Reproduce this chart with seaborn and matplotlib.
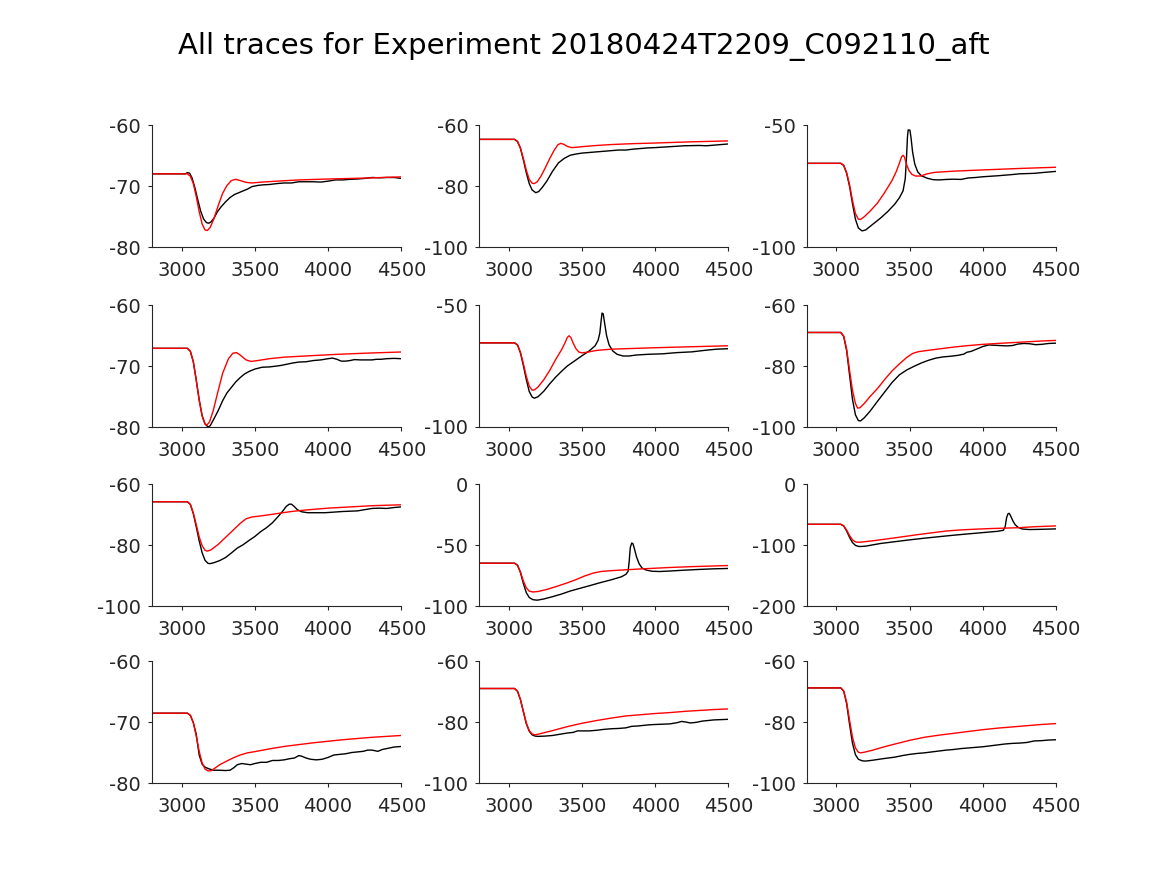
import matplotlib
matplotlib.use("Agg")
import matplotlib.pyplot as plt
import seaborn as sns

sns.set_style("ticks")
plt.rcParams['font.family'] = ['DejaVu Sans']
plt.rcParams['axes.unicode_minus'] = False

TITLE = "All traces for Experiment 20180424T2209_C092110_aft"
X_LIM = (2800, 4500)
X_TICKS = [3000, 3500, 4000, 4500]

# ---------------- panel 1 ----------------
p1_t_rec = [2800, 3025, 3040, 3055, 3070, 3090, 3110, 3130, 3150, 3170, 3185, 3200, 3220, 3245, 3270, 3300, 3330, 3360, 3390, 3420, 3450, 3480, 3520, 3560, 3600, 3650, 3700, 3750, 3800, 3850, 3900, 3950, 4000, 4050, 4100, 4150, 4200, 4250, 4300, 4350, 4400, 4450, 4500]
p1_v_rec = [-68.0, -68.0, -67.8, -67.9, -68.6, -70.2, -72.2, -74.1, -75.4, -76.0, -76.1, -75.9, -75.3, -74.2, -73.4, -72.6, -71.9, -71.4, -71.1, -70.8, -70.5, -70.1, -69.9, -69.8, -69.75, -69.6, -69.5, -69.5, -69.3, -69.3, -69.3, -69.35, -69.2, -69.0, -69.0, -68.9, -68.85, -68.75, -68.6, -68.65, -68.6, -68.6, -68.75]
p1_t_sim = [2800, 3040, 3060, 3080, 3100, 3120, 3140, 3160, 3175, 3195, 3220, 3250, 3280, 3310, 3340, 3370, 3400, 3440, 3480, 3550, 3650, 3800, 4000, 4250, 4500]
p1_v_sim = [-68.0, -68.0, -68.4, -69.6, -71.7, -74.2, -76.2, -77.2, -77.3, -76.8, -75.4, -73.2, -71.2, -69.9, -69.1, -68.9, -69.1, -69.4, -69.5, -69.35, -69.2, -69.0, -68.85, -68.7, -68.5]

# ---------------- panel 2 ----------------
p2_t_rec = [2800, 3040, 3060, 3080, 3100, 3120, 3140, 3160, 3185, 3205, 3230, 3260, 3300, 3340, 3380, 3420, 3460, 3500, 3550, 3600, 3650, 3700, 3750, 3800, 3850, 3900, 3950, 4000, 4100, 4200, 4300, 4350, 4400, 4450, 4500]
p2_v_rec = [-64.7, -64.7, -65.4, -67.6, -71.4, -75.6, -79.2, -81.3, -82.2, -81.8, -80.4, -78.4, -75.1, -72.4, -70.9, -69.9, -69.5, -69.2, -69.0, -68.8, -68.6, -68.4, -68.2, -68.2, -67.9, -67.7, -67.5, -67.4, -67.1, -66.8, -66.7, -66.8, -66.6, -66.4, -66.2]
p2_t_sim = [2800, 3040, 3060, 3080, 3100, 3120, 3140, 3160, 3175, 3195, 3220, 3250, 3280, 3310, 3335, 3355, 3375, 3400, 3430, 3460, 3500, 3600, 3700, 3850, 4000, 4250, 4500]
p2_v_sim = [-64.7, -64.7, -65.4, -67.5, -71.0, -74.8, -77.8, -79.1, -79.2, -78.6, -76.8, -74.0, -71.0, -68.3, -66.5, -66.0, -66.3, -67.0, -67.4, -67.3, -67.1, -66.7, -66.4, -66.1, -65.9, -65.5, -65.2]

# ---------------- panel 3 ----------------
p3_t_rec = [2800, 3030, 3050, 3070, 3090, 3110, 3130, 3150, 3175, 3200, 3250, 3300, 3350, 3400, 3430, 3455, 3470, 3478, 3485, 3490, 3502, 3510, 3520, 3535, 3555, 3580, 3620, 3660, 3700, 3750, 3800, 3850, 3900, 3950, 4000, 4100, 4200, 4250, 4350, 4420, 4500]
p3_v_rec = [-65.7, -65.7, -66.6, -69.8, -75.2, -82.3, -88.6, -92.2, -93.4, -93.0, -90.6, -88.2, -85.5, -82.3, -79.8, -77.0, -72.0, -64.0, -55.0, -52.0, -52.1, -55.5, -61.0, -66.0, -69.2, -70.8, -71.8, -72.4, -72.5, -72.3, -72.2, -72.3, -71.7, -71.5, -71.2, -70.8, -70.3, -70.0, -69.8, -69.4, -69.0]
p3_t_sim = [2800, 3030, 3050, 3070, 3090, 3110, 3130, 3150, 3165, 3190, 3230, 3280, 3330, 3380, 3410, 3430, 3445, 3455, 3465, 3480, 3495, 3515, 3540, 3575, 3620, 3670, 3800, 4000, 4250, 4500]
p3_v_sim = [-65.7, -65.7, -66.5, -69.5, -74.5, -81.0, -86.3, -88.6, -88.7, -87.6, -85.3, -82.0, -77.6, -72.7, -68.9, -65.6, -63.0, -62.4, -63.2, -66.3, -68.6, -70.2, -70.9, -70.9, -70.0, -69.4, -68.9, -68.4, -67.8, -67.3]

# ---------------- panel 4 ----------------
p4_t_rec = [2800, 3040, 3060, 3080, 3100, 3120, 3140, 3160, 3180, 3195, 3220, 3250, 3280, 3310, 3340, 3370, 3400, 3430, 3460, 3500, 3550, 3600, 3650, 3680, 3720, 3760, 3800, 3850, 3900, 3950, 4000, 4030, 4060, 4090, 4120, 4150, 4180, 4220, 4260, 4300, 4330, 4360, 4400, 4450, 4500]
p4_v_rec = [-67.1, -67.1, -67.6, -69.3, -72.3, -75.5, -78.1, -79.5, -80.0, -79.8, -78.7, -77.3, -75.7, -74.4, -73.5, -72.6, -71.9, -71.3, -70.9, -70.5, -70.2, -70.15, -70.0, -69.9, -69.7, -69.5, -69.35, -69.3, -69.1, -69.0, -68.8, -68.7, -68.9, -69.2, -69.2, -69.1, -68.95, -69.0, -69.0, -69.0, -68.9, -68.9, -68.8, -68.75, -68.8]
p4_t_sim = [2800, 3040, 3060, 3080, 3100, 3120, 3140, 3160, 3172, 3190, 3215, 3245, 3280, 3320, 3350, 3375, 3400, 3440, 3475, 3520, 3600, 3700, 3850, 4050, 4250, 4500]
p4_v_sim = [-67.1, -67.1, -67.6, -69.3, -72.3, -75.6, -78.2, -79.5, -79.7, -79.2, -77.4, -74.5, -71.2, -68.8, -67.9, -67.8, -68.2, -69.0, -69.25, -69.1, -68.8, -68.55, -68.35, -68.1, -67.9, -67.7]

# ---------------- panel 5 ----------------
p5_t_rec = [2800, 3040, 3060, 3080, 3100, 3120, 3140, 3160, 3175, 3200, 3240, 3280, 3320, 3360, 3400, 3450, 3500, 3550, 3590, 3610, 3622, 3630, 3637, 3645, 3655, 3668, 3685, 3710, 3740, 3780, 3820, 3870, 3950, 4050, 4150, 4250, 4350, 4420, 4500]
p5_v_rec = [-65.5, -65.5, -66.4, -69.6, -74.8, -80.5, -85.4, -87.7, -88.2, -87.6, -85.3, -82.3, -79.6, -77.2, -75.0, -72.9, -70.8, -68.8, -66.7, -64.5, -61.5, -57.0, -53.3, -53.6, -57.5, -62.5, -66.3, -68.8, -70.2, -70.9, -70.9, -70.5, -70.2, -70.0, -69.5, -69.2, -68.5, -68.1, -67.9]
p5_t_sim = [2800, 3040, 3060, 3080, 3100, 3120, 3140, 3160, 3175, 3200, 3240, 3280, 3320, 3360, 3385, 3400, 3412, 3425, 3440, 3460, 3480, 3500, 3540, 3600, 3700, 3850, 4000, 4250, 4500]
p5_v_sim = [-65.5, -65.5, -66.3, -69.3, -74.0, -79.2, -83.2, -84.9, -84.8, -83.6, -80.6, -76.8, -72.4, -68.4, -65.4, -63.3, -62.6, -63.4, -65.6, -68.0, -69.3, -69.6, -69.3, -68.6, -68.1, -67.8, -67.5, -67.1, -66.7]

# ---------------- panel 6 ----------------
p6_t_rec = [2800, 3030, 3050, 3070, 3090, 3110, 3130, 3150, 3165, 3190, 3230, 3280, 3330, 3380, 3430, 3480, 3530, 3580, 3630, 3680, 3730, 3780, 3830, 3870, 3890, 3920, 3960, 4000, 4040, 4080, 4120, 4160, 4200, 4240, 4280, 4320, 4360, 4400, 4450, 4500]
p6_v_rec = [-69.0, -69.0, -70.3, -75.0, -83.0, -91.0, -96.0, -97.9, -98.0, -97.0, -94.8, -91.6, -88.5, -85.4, -82.9, -81.3, -80.1, -79.0, -78.1, -77.4, -77.0, -76.8, -76.5, -76.1, -75.5, -75.2, -74.4, -73.6, -73.1, -73.2, -73.3, -73.4, -73.3, -72.8, -72.6, -72.7, -73.0, -72.9, -72.6, -72.5]
p6_t_sim = [2800, 3030, 3050, 3070, 3090, 3110, 3130, 3145, 3160, 3190, 3230, 3280, 3330, 3380, 3430, 3480, 3520, 3560, 3620, 3700, 3800, 3900, 4000, 4100, 4250, 4400, 4500]
p6_v_sim = [-69.0, -69.0, -70.2, -74.5, -81.5, -88.0, -92.3, -93.8, -93.7, -92.3, -90.0, -87.4, -84.4, -81.6, -79.3, -77.2, -75.9, -75.3, -74.9, -74.4, -73.8, -73.3, -72.9, -72.6, -72.2, -71.8, -71.6]

# ---------------- panel 7 ----------------
p7_t_rec = [2800, 3040, 3060, 3080, 3100, 3120, 3140, 3160, 3180, 3195, 3220, 3260, 3300, 3340, 3380, 3420, 3460, 3500, 3540, 3580, 3620, 3660, 3690, 3715, 3735, 3750, 3770, 3790, 3820, 3860, 3920, 3980, 4040, 4100, 4150, 4200, 4250, 4300, 4350, 4400, 4450, 4500]
p7_v_rec = [-65.8, -65.8, -66.7, -69.7, -74.0, -78.6, -82.5, -85.0, -86.0, -86.1, -85.8, -85.1, -84.1, -82.6, -81.0, -79.9, -78.5, -77.2, -75.6, -74.3, -72.7, -70.6, -68.9, -67.3, -66.6, -66.6, -67.4, -68.4, -69.1, -69.4, -69.4, -69.4, -69.2, -69.0, -68.9, -68.8, -68.4, -68.0, -67.9, -68.0, -67.7, -67.5]
p7_t_sim = [2800, 3040, 3060, 3080, 3100, 3120, 3140, 3160, 3175, 3200, 3250, 3300, 3350, 3400, 3440, 3480, 3550, 3650, 3750, 3850, 4000, 4150, 4300, 4500]
p7_v_sim = [-65.8, -65.8, -66.7, -69.5, -73.3, -77.3, -80.2, -81.7, -82.0, -81.6, -79.8, -77.5, -75.2, -72.9, -71.4, -70.8, -70.4, -69.7, -69.0, -68.5, -67.9, -67.5, -67.1, -66.8]

# ---------------- panel 8 ----------------
p8_t_rec = [2800, 3040, 3060, 3080, 3100, 3120, 3140, 3165, 3195, 3240, 3300, 3360, 3420, 3480, 3550, 3620, 3700, 3770, 3800, 3815, 3822, 3830, 3840, 3848, 3858, 3872, 3890, 3910, 3940, 3980, 4030, 4100, 4200, 4300, 4400, 4500]
p8_v_rec = [-64.9, -64.9, -66.5, -72.5, -81.5, -89.0, -93.0, -94.8, -95.2, -94.2, -92.3, -90.2, -87.7, -85.7, -83.4, -81.0, -78.5, -76.0, -74.0, -71.5, -64.0, -52.0, -48.3, -48.9, -53.0, -59.5, -65.3, -68.8, -70.6, -71.5, -71.7, -71.3, -70.6, -70.0, -69.5, -69.2]
p8_t_sim = [2800, 3040, 3060, 3080, 3100, 3120, 3140, 3165, 3200, 3260, 3330, 3400, 3460, 3520, 3580, 3630, 3700, 3800, 3900, 4000, 4100, 4250, 4500]
p8_v_sim = [-64.9, -64.9, -66.5, -72.0, -79.5, -85.0, -87.8, -88.5, -88.1, -86.4, -83.8, -81.0, -78.3, -75.3, -72.9, -71.7, -71.0, -70.3, -69.6, -69.0, -68.4, -67.7, -66.8]

# ---------------- panel 9 ----------------
p9_t_rec = [2800, 3030, 3050, 3070, 3090, 3110, 3130, 3150, 3165, 3200, 3300, 3400, 3500, 3600, 3700, 3800, 3900, 4000, 4100, 4140, 4152, 4162, 4172, 4180, 4190, 4205, 4220, 4240, 4270, 4320, 4400, 4500]
p9_v_rec = [-66.0, -66.0, -68.8, -77.0, -87.5, -96.0, -100.6, -102.2, -102.4, -101.8, -97.5, -94.5, -91.5, -88.8, -86.3, -83.9, -81.7, -79.6, -77.5, -75.8, -70.0, -55.0, -48.5, -48.0, -52.5, -60.5, -66.5, -71.0, -73.8, -74.6, -74.2, -73.5]
p9_t_sim = [2800, 3030, 3050, 3070, 3090, 3110, 3130, 3145, 3170, 3250, 3350, 3450, 3550, 3650, 3750, 3850, 3950, 4050, 4150, 4250, 4350, 4500]
p9_v_sim = [-66.0, -66.0, -68.5, -75.5, -84.5, -91.5, -94.8, -95.4, -95.2, -93.0, -89.8, -86.5, -83.1, -80.0, -77.0, -75.2, -74.0, -73.0, -72.3, -71.5, -70.0, -68.6]

# ---------------- panel 10 ----------------
p10_t_rec = [2800, 3040, 3060, 3080, 3100, 3120, 3140, 3160, 3190, 3220, 3260, 3300, 3330, 3356, 3380, 3410, 3440, 3470, 3500, 3540, 3580, 3620, 3660, 3700, 3740, 3770, 3800, 3820, 3850, 3880, 3920, 3960, 4000, 4040, 4080, 4120, 4160, 4200, 4240, 4270, 4300, 4340, 4370, 4410, 4450, 4500]
p10_v_rec = [-68.55, -68.55, -68.9, -70.1, -72.0, -75.4, -76.9, -77.4, -77.7, -77.9, -77.9, -77.95, -77.9, -77.5, -77.0, -76.8, -76.9, -77.0, -76.8, -76.6, -76.6, -76.3, -76.3, -76.2, -76.0, -75.9, -75.5, -75.6, -75.9, -76.1, -76.2, -76.1, -75.8, -75.4, -75.3, -75.2, -75.0, -74.9, -74.8, -74.6, -74.6, -74.8, -74.5, -74.3, -74.1, -74.0]
p10_t_sim = [2800, 3040, 3060, 3080, 3100, 3120, 3140, 3160, 3180, 3200, 3225, 3260, 3300, 3350, 3400, 3450, 3500, 3600, 3700, 3800, 3900, 4000, 4100, 4200, 4300, 4400, 4500]
p10_v_sim = [-68.55, -68.55, -68.9, -70.1, -72.3, -74.8, -76.7, -77.7, -78.0, -78.0, -77.6, -77.0, -76.5, -75.9, -75.4, -75.05, -74.85, -74.4, -74.0, -73.7, -73.4, -73.15, -72.9, -72.7, -72.5, -72.35, -72.2]

# ---------------- panel 11 ----------------
p11_t_rec = [2800, 3040, 3060, 3080, 3100, 3120, 3140, 3160, 3180, 3200, 3250, 3300, 3350, 3400, 3440, 3470, 3500, 3550, 3600, 3650, 3700, 3750, 3800, 3840, 3880, 3920, 3960, 4000, 4050, 4100, 4150, 4180, 4210, 4240, 4280, 4320, 4360, 4400, 4450, 4500]
p11_v_rec = [-69.0, -69.0, -69.9, -72.6, -76.6, -80.5, -83.0, -84.2, -84.6, -84.7, -84.6, -84.4, -84.0, -83.6, -83.4, -82.9, -82.9, -82.9, -82.7, -82.4, -82.2, -82.1, -81.9, -81.4, -81.3, -81.1, -80.9, -80.8, -80.7, -80.6, -80.2, -79.8, -80.0, -80.3, -80.1, -79.7, -79.5, -79.3, -79.2, -79.1]
p11_t_sim = [2800, 3040, 3060, 3080, 3100, 3120, 3140, 3160, 3178, 3200, 3250, 3300, 3400, 3500, 3600, 3700, 3800, 3900, 4000, 4100, 4200, 4300, 4400, 4500]
p11_v_sim = [-69.0, -69.0, -69.9, -72.6, -76.5, -80.3, -82.8, -83.9, -84.2, -84.0, -83.4, -82.8, -81.5, -80.4, -79.5, -78.7, -78.0, -77.6, -77.2, -76.9, -76.5, -76.2, -75.9, -75.7]

# ---------------- panel 12 ----------------
p12_t_rec = [2800, 3030, 3050, 3070, 3090, 3110, 3130, 3150, 3175, 3200, 3250, 3320, 3400, 3450, 3500, 3550, 3600, 3650, 3700, 3750, 3800, 3850, 3900, 3950, 4000, 4050, 4100, 4150, 4200, 4250, 4300, 4350, 4400, 4450, 4500]
p12_v_rec = [-68.8, -68.8, -69.9, -74.0, -80.8, -87.0, -90.7, -92.2, -92.7, -92.8, -92.5, -92.0, -91.5, -91.0, -90.6, -90.3, -90.1, -89.8, -89.5, -89.2, -89.0, -88.7, -88.5, -88.3, -88.1, -87.8, -87.5, -87.2, -87.0, -86.9, -86.7, -86.2, -86.1, -85.9, -85.8]
p12_t_sim = [2800, 3030, 3050, 3070, 3090, 3110, 3130, 3150, 3165, 3190, 3250, 3320, 3400, 3500, 3600, 3700, 3800, 3900, 4000, 4100, 4200, 4300, 4400, 4500]
p12_v_sim = [-68.8, -68.8, -69.8, -73.5, -79.5, -85.0, -88.5, -89.9, -90.1, -89.9, -89.2, -88.2, -87.2, -86.0, -85.0, -84.3, -83.7, -83.1, -82.5, -82.0, -81.6, -81.2, -80.8, -80.5]

# y-axis limits / ticks per panel (row-major)
y_limits = [(-80, -60), (-100, -60), (-100, -50),
            (-80, -60), (-100, -50), (-100, -60),
            (-100, -60), (-100, 0), (-200, 0),
            (-80, -60), (-100, -60), (-100, -60)]
y_ticks = [[-80, -70, -60], [-100, -80, -60], [-100, -50],
           [-80, -70, -60], [-100, -50], [-100, -80, -60],
           [-100, -80, -60], [-100, -50, 0], [-200, -100, 0],
           [-80, -70, -60], [-100, -80, -60], [-100, -80, -60]]

panels = [
    (p1_t_rec, p1_v_rec, p1_t_sim, p1_v_sim),
    (p2_t_rec, p2_v_rec, p2_t_sim, p2_v_sim),
    (p3_t_rec, p3_v_rec, p3_t_sim, p3_v_sim),
    (p4_t_rec, p4_v_rec, p4_t_sim, p4_v_sim),
    (p5_t_rec, p5_v_rec, p5_t_sim, p5_v_sim),
    (p6_t_rec, p6_v_rec, p6_t_sim, p6_v_sim),
    (p7_t_rec, p7_v_rec, p7_t_sim, p7_v_sim),
    (p8_t_rec, p8_v_rec, p8_t_sim, p8_v_sim),
    (p9_t_rec, p9_v_rec, p9_t_sim, p9_v_sim),
    (p10_t_rec, p10_v_rec, p10_t_sim, p10_v_sim),
    (p11_t_rec, p11_v_rec, p11_t_sim, p11_v_sim),
    (p12_t_rec, p12_v_rec, p12_t_sim, p12_v_sim),
]

TXT = "#262626"
fig = plt.figure(figsize=(11.67, 8.75), dpi=100)
lefts = [0.1305, 0.4108, 0.6916]
bottoms = [0.7177, 0.512, 0.3074, 0.1051]
W, H = 0.2134, 0.1394

for i, (tr, vr, ts, vs) in enumerate(panels):
    r, c = divmod(i, 3)
    ax = fig.add_axes([lefts[c], bottoms[r], W, H])
    sns.lineplot(x=tr, y=vr, color="black", linewidth=1.0, ax=ax)
    sns.lineplot(x=ts, y=vs, color="red", linewidth=1.0, ax=ax)
    ax.set_xlim(*X_LIM)
    ax.set_ylim(*y_limits[i])
    ax.set_xticks(X_TICKS)
    ax.set_yticks(y_ticks[i])
    ax.set_xlabel("")
    ax.set_ylabel("")
    sns.despine(ax=ax)
    for s in ("left", "bottom"):
        ax.spines[s].set_color(TXT)
        ax.spines[s].set_linewidth(0.8)
    ax.tick_params(direction="out", length=3, width=0.8, colors=TXT,
                   labelsize=14, labelcolor=TXT)
    ax.tick_params(axis="x", pad=7)
    ax.tick_params(axis="y", pad=5)

fig.suptitle(TITLE, x=0.5, y=0.963, fontsize=21, color="black")
fig.savefig("out.png", dpi=100, facecolor="white")
